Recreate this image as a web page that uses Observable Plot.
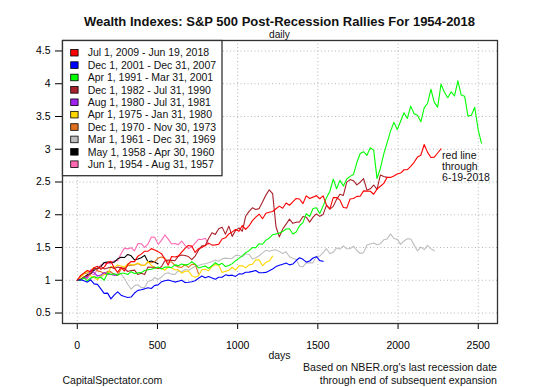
<!DOCTYPE html>
<html><head><meta charset="utf-8">
<script src="https://cdn.jsdelivr.net/npm/d3@7"></script>
<script src="https://cdn.jsdelivr.net/npm/@observablehq/plot@0.6"></script>
<style>
body{margin:0;background:#fff;}
#chart{width:560px;height:387px;}
svg{font-family:"Liberation Sans",Arial,sans-serif;}
</style></head><body><div id="chart"></div>
<script>
// ---- data (wealth index = price / start price, read monthly) ----
const monthStep = 21; // trading days per monthly reading

const legendLabels = [
  "Jul 1, 2009 - Jun 19, 2018",
  "Dec 1, 2001 - Dec 31, 2007",
  "Apr 1, 1991 - Mar 31, 2001",
  "Dec 1, 1982 - Jul 31, 1990",
  "Aug 1, 1980 - Jul 31, 1981",
  "Apr 1, 1975 - Jan 31, 1980",
  "Dec 1, 1970 - Nov 30, 1973",
  "Mar 1, 1961 - Dec 31, 1969",
  "May 1, 1958 - Apr 30, 1960",
  "Jun 1, 1954 - Aug 31, 1957"
];
const legendColors = ["#ff0000","#0000ff","#00ff00","#a8202a","#a020f0","#ffd700","#e0701e","#bebebe","#000000","#ff69b4"];

const r2009 = [1,1.074,1.110,1.150,1.127,1.192,1.213,
 1.168,1.201,1.272,1.291,1.185,1.121,1.198,1.141,1.241,1.287,1.284,1.368,
 1.399,1.444,1.442,1.483,1.463,1.437,1.406,1.326,1.231,1.363,1.356,1.368,
 1.428,1.486,1.532,1.521,1.425,1.482,1.500,1.530,1.567,1.536,1.540,1.551,
 1.630,1.648,1.707,1.738,1.774,1.747,1.834,1.776,1.829,1.911,1.964,2.011,
 1.939,2.023,2.037,2.049,2.092,2.132,2.100,2.179,2.145,2.195,2.249,2.240,
 2.170,2.289,2.249,2.269,2.292,2.244,2.288,2.145,2.089,2.262,2.263,2.223,
 2.111,2.102,2.240,2.247,2.281,2.283,2.364,2.361,2.359,2.313,2.392,2.435,
 2.479,2.571,2.570,2.593,2.623,2.636,2.687,2.689,2.740,2.801,2.880,2.908,
 3.072,2.952,2.873,2.880,2.943,3.005];
const r2001 = [1,1.008,
 0.992,0.971,1.007,0.945,0.937,0.869,0.800,0.804,0.716,0.777,0.822,0.772,
 0.751,0.738,0.744,0.805,0.846,0.855,0.869,0.885,0.874,0.922,0.929,0.976,
 0.993,1.005,0.988,0.972,0.984,1.001,0.967,0.969,0.978,0.992,1.030,1.064,
 1.037,1.056,1.036,1.015,1.046,1.046,1.083,1.071,1.078,1.059,1.097,1.096,
 1.123,1.124,1.136,1.150,1.115,1.115,1.120,1.144,1.172,1.209,1.229,1.245,
 1.262,1.235,1.247,1.301,1.343,1.319,1.277,1.294,1.340,1.360,1.300,1.289];
const r1991 = [1,1.000,1.039,0.989,1.034,1.054,1.034,1.046,1.000,1.112,
 1.089,1.100,1.076,1.106,1.107,1.088,1.131,1.103,1.113,1.116,1.150,1.161,
 1.169,1.182,1.204,1.173,1.200,1.201,1.194,1.235,1.223,1.247,1.231,1.243,
 1.284,1.245,1.188,1.202,1.217,1.184,1.221,1.267,1.233,1.259,1.209,1.224,
 1.254,1.299,1.334,1.372,1.422,1.452,1.498,1.497,1.558,1.550,1.613,1.642,
 1.695,1.707,1.720,1.743,1.783,1.787,1.706,1.738,1.832,1.880,2.018,1.974,
 2.095,2.108,2.018,2.136,2.261,2.359,2.543,2.397,2.525,2.438,2.546,2.586,
 2.613,2.797,2.936,2.963,2.907,3.022,2.987,2.551,2.710,2.928,3.101,3.276,
 3.410,3.300,3.428,3.558,3.470,3.658,3.541,3.519,3.419,3.632,3.702,3.916,
 3.716,3.642,3.994,3.871,3.786,3.877,3.813,4.045,3.828,3.810,3.505,3.519,
 3.641,3.305,3.092];
const r1982 = [1,1.015,
 1.049,1.069,1.104,1.187,1.172,1.213,1.173,1.187,1.199,1.181,1.201,1.190,
 1.180,1.134,1.149,1.155,1.087,1.106,1.087,1.203,1.199,1.199,1.181,1.207,
 1.297,1.308,1.304,1.298,1.368,1.385,1.378,1.362,1.314,1.370,1.459,1.525,
 1.529,1.638,1.724,1.700,1.785,1.811,1.704,1.826,1.670,1.761,1.799,1.748,
 1.978,2.051,2.106,2.081,2.094,2.194,2.300,2.381,2.323,1.817,1.662,1.783,
 1.856,1.933,1.869,1.886,1.892,1.974,1.963,1.888,1.963,2.014,1.976,2.005,
 2.147,2.085,2.128,2.235,2.314,2.295,2.498,2.537,2.520,2.457,2.497,2.551,
 2.375,2.396,2.454,2.388,2.607,2.584,2.571];
const r1980 = [1,1.006,1.031,1.048,1.155,1.116,1.065,1.079,1.118,1.092,1.090,1.078,1.076];
const r1975 = [1,1.047,1.093,1.142,1.065,1.042,1.006,1.068,1.095,1.082,
 1.210,1.196,1.233,1.219,1.202,1.251,1.241,1.235,1.262,1.234,1.225,1.289,
 1.224,1.197,1.181,1.181,1.153,1.205,1.186,1.161,1.158,1.108,1.138,1.141,
 1.071,1.044,1.070,1.162,1.167,1.146,1.208,1.239,1.230,1.117,1.136,1.153,
 1.199,1.155,1.219,1.221,1.189,1.235,1.245,1.311,1.311,1.221,1.274,1.295,
 1.369];
const r1970 = [1,1.057,
 1.100,1.110,1.150,1.192,1.143,1.132,1.096,1.136,1.128,1.081,1.078,1.171,
 1.192,1.222,1.229,1.235,1.256,1.229,1.232,1.274,1.268,1.280,1.338,1.354,
 1.331,1.281,1.279,1.227,1.204,1.196,1.241,1.196,1.243,1.242,1.100];
const r1961 = [1,1.026,1.029,1.049,1.019,1.052,1.073,1.052,1.082,1.124,1.128,
 1.085,1.103,1.096,1.028,0.940,0.863,0.918,0.932,0.887,0.891,0.981,0.995,
 1.043,1.013,1.049,1.100,1.116,1.093,1.090,1.143,1.130,1.167,1.154,1.183,
 1.214,1.226,1.245,1.253,1.267,1.288,1.311,1.290,1.327,1.338,1.331,1.336,
 1.380,1.378,1.358,1.405,1.394,1.326,1.344,1.374,1.418,1.457,1.444,1.457,
 1.464,1.438,1.407,1.435,1.358,1.336,1.318,1.215,1.207,1.264,1.268,1.266,
 1.365,1.368,1.422,1.482,1.404,1.429,1.494,1.476,1.524,1.480,1.482,1.521,
 1.454,1.409,1.422,1.538,1.555,1.570,1.541,1.558,1.618,1.630,1.708,1.637,
 1.624,1.547,1.600,1.634,1.631,1.540,1.447,1.506,1.468,1.533,1.479,1.451];
const r1958 = [1,1.016,1.042,1.087,1.100,1.153,1.182,1.209,1.272,
 1.277,1.276,1.277,1.327,1.352,1.347,1.394,1.373,1.310,1.325,1.343,1.380,
 1.281,1.293,1.275,1.253];
const r1954 = [1,1.001,1.058,1.022,1.107,1.085,1.173,1.233,
 1.255,1.259,1.253,1.300,1.299,1.406,1.491,1.479,1.496,1.450,1.559,1.558,
 1.501,1.553,1.661,1.657,1.548,1.609,1.692,1.628,1.554,1.561,1.544,1.599,
 1.532,1.482,1.511,1.567,1.625,1.623,1.641,1.549];

const seriesValues = [r2009, r2001, r1991, r1982, r1980, r1975, r1970, r1961, r1958, r1954];
const xTicks = [0, 500, 1000, 1500, 2000, 2500];
const yTicks = [0.5, 1, 1.5, 2, 2.5, 3, 3.5, 4, 4.5];

// table for Plot (oldest drawn first so the newest is on top)
const rows = [];
for (let s = seriesValues.length - 1; s >= 0; s--) {
  seriesValues[s].forEach((v, k) => rows.push({period: legendLabels[s], day: k * monthStep, value: v}));
}
const redRows = rows.filter(d => d.period === legendLabels[0]);
const redLast = [redRows[redRows.length - 1]];

const FONT = "Liberation Sans, Arial, sans-serif";
const W = 560, H = 387, mL = 62, mR = 63, mT = 40, mB = 64;

const plot = Plot.plot({
  width: W, height: H,
  marginTop: mT, marginLeft: mL, marginRight: mR, marginBottom: mB,
  style: {fontFamily: FONT, fontSize: "10.5px", color: "#000", background: "#fff", overflow: "visible"},
  x: {domain: [-92, 2620]},
  y: {domain: [0.34, 4.66]},
  color: {domain: legendLabels, range: legendColors},
  marks: [
    Plot.gridX(xTicks, {stroke: "#b8b8b8", strokeOpacity: 1, strokeDasharray: "1,2.5"}),
    Plot.gridY(yTicks, {stroke: "#b8b8b8", strokeOpacity: 1, strokeDasharray: "1,2.5"}),
    Plot.lineY(rows, {x: "day", y: "value", z: "period", stroke: "period", strokeWidth: 1.1}),
    Plot.axisX(xTicks, {tickSize: 6, tickPadding: 12, label: null, tickFormat: d => String(d)}),
    Plot.axisY(yTicks, {tickSize: 7, tickPadding: 5, label: null, tickFormat: d => String(d)}),
    Plot.frame({stroke: "#333", strokeWidth: 1.3}),
    Plot.text(redLast, {x: "day", y: "value", text: () => "red line\nthrough\n6-19-2018",
      textAnchor: "start", lineAnchor: "top", dx: 1, dy: 2, lineHeight: 1.05, fontSize: 10.5, fill: "#111"})
  ]
});
document.getElementById("chart").appendChild(plot);

// ---- legend, titles and notes ----
const svg = d3.select(plot);
const cx = mL + (W - mL - mR) / 2;
function addText(x, y, anchor, size, str, bold) {
  return svg.append("text").attr("x", x).attr("y", y).attr("text-anchor", anchor)
    .attr("font-family", FONT).attr("font-size", size).attr("font-weight", bold ? "bold" : "normal")
    .attr("fill", "#111").text(str);
}
addText(cx, 26, "middle", 13, "Wealth Indexes: S&P 500 Post-Recession Rallies For 1954-2018", true);
addText(cx, 38.4, "middle", 10.2, "daily");
addText(cx, 358.5, "middle", 10.5, "days");
addText(W - mR, 370.5, "end", 10.6, "Based on NBER.org's last recession date");
addText(W - mR, 383.5, "end", 10.6, "through end of subsequent expansion");
addText(mL + 0.5, 383.5, "start", 10.5, "CapitalSpectator.com");

const lg = svg.append("g").attr("text-anchor", "start");
lg.append("rect").attr("x", mL + 0.5).attr("y", mT + 0.5).attr("width", 159.5).attr("height", 135.2)
  .attr("fill", "#fff").attr("stroke", "#333").attr("stroke-width", 1.3);
legendLabels.forEach((lab, i) => {
  const cy = 52.7 + i * 12.39;
  lg.append("rect").attr("x", 70.7).attr("y", cy - 3.3).attr("width", 7.4).attr("height", 6.6)
    .attr("fill", legendColors[i]).attr("stroke", "#000").attr("stroke-width", 0.8);
  lg.append("text").attr("x", 87.7).attr("y", cy).attr("dy", "0.36em").attr("text-anchor", "start")
    .attr("font-family", FONT).attr("font-size", 10.5).attr("fill", "#111").text(lab);
});
</script>
</body></html>
